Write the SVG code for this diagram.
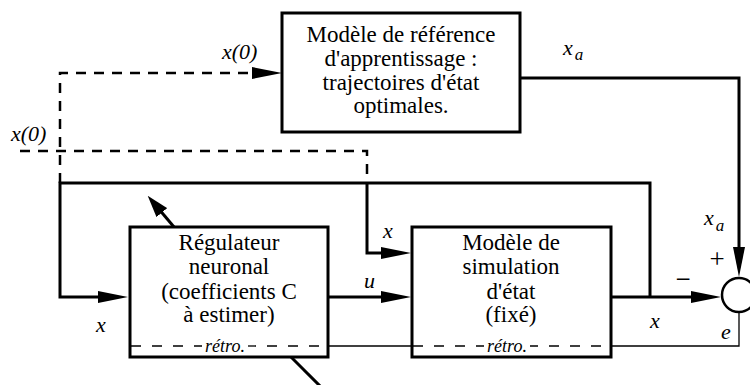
<svg xmlns="http://www.w3.org/2000/svg" width="750" height="385" viewBox="0 0 750 385">
<style>
.box{fill:#fff;stroke:#000;stroke-width:3}
.t{font-family:'Liberation Serif','Times New Roman',serif;font-size:23px;fill:#000;text-anchor:middle}
.lbl{font-family:'Liberation Serif','Times New Roman',serif;font-style:italic;font-size:22px;fill:#000}
.sub{font-size:17px}
.retro{font-family:'Liberation Serif','Times New Roman',serif;font-style:italic;font-size:18px;fill:#000;text-anchor:middle}
.sym{font-family:'Liberation Serif','Times New Roman',serif;font-size:27px;fill:#000;text-anchor:middle}
.w{fill:none;stroke:#000;stroke-width:3}
.d{fill:none;stroke:#000;stroke-width:2.5;stroke-dasharray:10 8}
.thin{fill:none;stroke:#000;stroke-width:1.3}
.thind{fill:none;stroke:#000;stroke-width:1.3;stroke-dasharray:10 11}
</style>
<defs>
<marker id="ah" viewBox="0 0 30 12" refX="10" refY="6" markerWidth="30" markerHeight="12" markerUnits="userSpaceOnUse" orient="auto">
<path d="M0,0 L30,6 L0,12 z" fill="#000"/>
</marker>
<marker id="ahs" viewBox="0 0 22 14" refX="6" refY="7" markerWidth="22" markerHeight="14" markerUnits="userSpaceOnUse" orient="auto">
<path d="M0,0 L22,7 L0,14 z" fill="#000"/>
</marker>
</defs>

<g id="connectors">
<path class="d" d="M60,183 V73 H262" marker-end="url(#ah)"/>
<path class="d" d="M20,151 H367 V183"/>
<path class="w" d="M367,183 V253 H391" marker-end="url(#ah)"/>
<path class="w" d="M650,297 V183 H60 V297 H108" marker-end="url(#ah)"/>
<path class="w" d="M611,297 H701" marker-end="url(#ah)"/>
<path class="w" d="M328,297 H391" marker-end="url(#ah)"/>
<path class="w" d="M520,78 H739 V257" marker-end="url(#ah)"/>
<path class="thin" d="M739,312 V346 H611"/>
<path class="thin" d="M412,346 H328"/>
<path class="w" d="M174,227 L158,208" marker-end="url(#ahs)"/>
<path class="w" d="M291,357 L322,388"/>
</g>

<g id="ref-model">
<rect class="box" x="282" y="13" width="238" height="119"/>
<text class="t" x="401" y="42">Modèle de référence</text>
<text class="t" x="401" y="66">d'apprentissage :</text>
<text class="t" x="401" y="90">trajectoires d'état</text>
<text class="t" x="401" y="113">optimales.</text>
</g>

<g id="regulateur">
<rect class="box" x="130" y="227" width="198" height="130"/>
<text class="t" x="229" y="250">Régulateur</text>
<text class="t" x="229" y="274">neuronal</text>
<text class="t" x="229" y="299">(coefficients C</text>
<text class="t" x="229" y="322">à estimer)</text>
<path class="thind" d="M131,346 H202"/>
<path class="thind" d="M248,346 H327" style="stroke-dashoffset:2"/>
<text class="retro" x="225" y="352">rétro.</text>
</g>

<g id="simulation">
<rect class="box" x="412" y="227" width="199" height="130"/>
<text class="t" x="511" y="250">Modèle de</text>
<text class="t" x="511" y="274">simulation</text>
<text class="t" x="511" y="299">d'état</text>
<text class="t" x="511" y="322">(fixé)</text>
<path class="thind" d="M413,346 H484"/>
<path class="thind" d="M530,346 H610" style="stroke-dashoffset:2"/>
<text class="retro" x="507" y="352">rétro.</text>
</g>

<g id="sommateur">
<circle cx="739" cy="295" r="17" fill="#fff" stroke="#000" stroke-width="2.5"/>
</g>

<g id="labels">
<text class="lbl" x="222" y="59">x(0)</text>
<text class="lbl" x="11" y="141">x(0)</text>
<text class="lbl" x="563" y="55">x<tspan class="sub" dx="2" dy="5">a</tspan></text>
<text class="lbl" x="704" y="225">x<tspan class="sub" dx="2" dy="6">a</tspan></text>
<text class="lbl" x="383" y="238">x</text>
<text class="lbl" x="364" y="288">u</text>
<text class="lbl" x="96" y="332">x</text>
<text class="lbl" x="650" y="328">x</text>
<text class="lbl" x="721" y="339">e</text>
<text class="sym" x="717" y="268">+</text>
<text class="sym" x="683" y="288">−</text>
</g>
</svg>
